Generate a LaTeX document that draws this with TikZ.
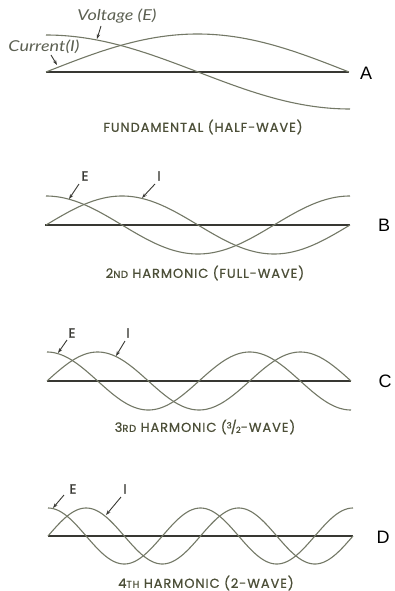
\documentclass[tikz,border=0pt]{standalone}
\usepackage{fontspec}
\setmainfont{Lato}
\newfontfamily\capfont[LetterSpace=7,FakeBold=0.7]{Poppins}
\newfontfamily\eifont[FakeBold=1.5]{Poppins}
\newfontfamily\lblfont{Liberation Sans}
\newfontfamily\handit[FakeStretch=1.2]{Lato Italic}
\usetikzlibrary{arrows.meta}
\definecolor{wavec}{rgb}{0.45,0.47,0.40}
\definecolor{axisc}{rgb}{0.22,0.22,0.20}
\definecolor{capc}{rgb}{0.30,0.31,0.22}
\begin{document}
\begin{tikzpicture}[x=1pt,y=-1pt,
  wave/.style={color=wavec, line width=1.1pt},
  axisline/.style={color=axisc, line width=1.3pt},
  arr/.style={color=axisc, line width=0.9pt, -{Stealth[length=5pt,width=3.5pt]}},
  caption/.style={color=capc, font=\capfont\fontsize{13}{15}\selectfont},
  panel/.style={font=\lblfont\fontsize{18}{20}\selectfont, text=black},
  ei/.style={color=axisc, font=\eifont\fontsize{13.5}{15}\selectfont},
  hand/.style={color=wavec!80!black, font=\handit\fontsize{15}{17}\selectfont}]
\useasboundingbox (0,0) rectangle (394,591);

% ---------- A ----------
\draw[axisline] (46,72) -- (349,72);
\draw[wave] plot[domain=0:180,samples=80] ({46+\x/180*303},{72-38*sin(\x)});
\draw[wave] plot[domain=0:180,samples=80] ({46+\x/180*304},{72-37*cos(\x)});
\node[hand] (voltA) at (117,16) {Voltage (E)};
\node[hand] (currA) at (44,47) {Current(I)};
\coordinate (voltAs) at (101,26);
\coordinate (voltAt) at (97,39);
\coordinate (currAs) at (51,55);
\coordinate (currAt) at (57,65);
\draw[arr] (voltAs) -- (voltAt);
\draw[arr] (currAs) -- (currAt);
\node[caption] (capA) at (203,127) {FUNDAMENTAL (HALF-WAVE)};
\node[panel] (A) at (366,73) {A};

% ---------- B ----------
\draw[axisline] (45,225) -- (350,225);
\draw[wave] plot[domain=0:360,samples=120] ({46+\x/360*304},{225-29*sin(\x)});
\draw[wave] plot[domain=0:360,samples=120] ({46+\x/360*304},{225-29*cos(\x)});
\node[ei] (EB) at (85,176) {E};
\node[ei] (IB) at (159,176) {I};
\coordinate (EBs) at (79,184);
\coordinate (EBt) at (69,199);
\coordinate (IBs) at (155,184);
\coordinate (IBt) at (142,198);
\draw[arr] (EBs) -- (EBt);
\draw[arr] (IBs) -- (IBt);
\node[caption] (capB) at (205,273) {2{\fontsize{10}{11}\selectfont ND} HARMONIC (FULL-WAVE)};
\node[panel] (B) at (384,225) {B};

% ---------- C ----------
\draw[axisline] (47,381) -- (351,381);
\draw[wave] plot[domain=0:540,samples=160] ({47+\x/540*304},{381-29*sin(\x)});
\draw[wave] plot[domain=0:540,samples=160] ({47+\x/540*304},{381-29*cos(\x)});
\node[ei] (EC) at (72,333) {E};
\node[ei] (IC) at (128,333) {I};
\coordinate (ECs) at (67,340);
\coordinate (ECt) at (58,353);
\coordinate (ICs) at (125,341);
\coordinate (ICt) at (116,356);
\draw[arr] (ECs) -- (ECt);
\draw[arr] (ICs) -- (ICt);
\node[caption] (capC) at (205,427) {3{\fontsize{10}{11}\selectfont RD} HARMONIC (\raisebox{3.5pt}{\fontsize{8.5}{9}\selectfont 3}\kern-1pt/\kern-1pt\raisebox{-1pt}{\fontsize{8.5}{9}\selectfont 2}-WAVE)};
\node[panel] (C) at (385,381) {C};

% ---------- D ----------
\draw[axisline] (48,536) -- (353,536);
\draw[wave] plot[domain=0:720,samples=200] ({48+\x/720*305},{536-28*sin(\x)});
\draw[wave] plot[domain=0:720,samples=200] ({48+\x/720*305},{536-28*cos(\x)});
\node[ei] (ED) at (73,489) {E};
\node[ei] (ID) at (125,489) {I};
\coordinate (EDs) at (64,495);
\coordinate (EDt) at (53,508);
\coordinate (IDs) at (121,497);
\coordinate (IDt) at (106,515);
\draw[arr] (EDs) -- (EDt);
\draw[arr] (IDs) -- (IDt);
\node[caption] (capD) at (206,583) {4{\fontsize{10}{11}\selectfont TH} HARMONIC (2-WAVE)};
\node[panel] (D) at (383,537) {D};
\end{tikzpicture}
\end{document}
